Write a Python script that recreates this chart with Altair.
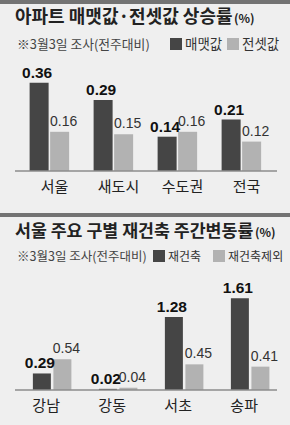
import altair as alt
import pandas as pd

# ---- data ----
regions = ["서울", "새도시", "수도권", "전국"]
sale_rise = [0.36, 0.29, 0.14, 0.21]
jeonse_rise = [0.16, 0.15, 0.16, 0.12]
series1 = ["매맷값", "전셋값"]
grid1 = [0, 0.1, 0.2, 0.3, 0.4]

districts = ["강남", "강동", "서초", "송파"]
rebuild_rate = [0.29, 0.02, 1.28, 1.61]
other_rate = [0.54, 0.04, 0.45, 0.41]
series2 = ["재건축", "재건축제외"]
grid2 = [0, 0.5, 1.0, 1.5, 2.0]

title1 = "아파트 매맷값·전셋값 상승률"
title2 = "서울 주요 구별 재건축 주간변동률"
unit = "(%)"
note = "※3월3일 조사(전주대비)"

DARK = "#454545"
LIGHT = "#b2b2b2"
BG = "#efefef"
BAND = "#737373"
KR = "Noto Sans CJK KR"
NUM = "Liberation Sans, Arial, sans-serif"

W = 263


def one(t):
    return alt.Chart(pd.DataFrame({"t": [t]}))


def panel(cats, ser, a, b, grid, height, pin, xrange, barw,
          band_y, title_y, title_fs, unit_x, note_y, note_fs, leg):
    n = len(cats)
    df = pd.DataFrame({
        "cat": cats * 2,
        "series": [ser[0]] * n + [ser[1]] * n,
        "value": a + b,
    })
    x = alt.X("cat:N", sort=cats,
              scale=alt.Scale(paddingInner=pin, paddingOuter=0, range=xrange),
              axis=alt.Axis(title=None, domain=False, ticks=False, labelAngle=0,
                            labelFont=KR, labelFontSize=15, labelColor="#222",
                            labelPadding=8))
    xo = alt.XOffset("series:N", sort=ser,
                     scale=alt.Scale(paddingInner=0.1, paddingOuter=0))
    y = alt.Y("value:Q", scale=alt.Scale(domain=[grid[0], grid[-1]], nice=False),
              axis=alt.Axis(title=None, values=grid, domain=False, ticks=False,
                            labelExpr="datum.value === 0 ? '0' : ''",
                            labelFont=NUM, labelFontSize=13, labelColor="#555",
                            labelPadding=3, gridColor="#ffffff", gridWidth=1))
    color = alt.Color("series:N", sort=ser,
                      scale=alt.Scale(domain=ser, range=[DARK, LIGHT]), legend=None)

    base = alt.Chart(df)
    bars = base.mark_bar(size=barw).encode(x=x, xOffset=xo, y=y, color=color)
    lab_dark = base.transform_filter(alt.datum.series == ser[0]).mark_text(
        font=NUM, fontWeight="bold", fontSize=15.5, baseline="alphabetic",
        dy=-5, dx=-2, color="#111").encode(
        x=x, xOffset=xo, y=y, text=alt.Text("value:Q", format=".2f"))
    lab_light = base.transform_filter(alt.datum.series == ser[1]).mark_text(
        font=NUM, fontSize=14, baseline="alphabetic",
        dy=-6, dx=4, color="#333").encode(
        x=x, xOffset=xo, y=y, text=alt.Text("value:Q", format=".2f"))

    zero = alt.Chart(pd.DataFrame({"v": [0]})).mark_rule(
        color="#8c8c8c", strokeWidth=1.5).encode(
        y=alt.Y("v:Q", axis=None), x=alt.value(0), x2=alt.value(262))

    band = one("").mark_rect(color=BAND).encode(
        x=alt.value(-15), x2=alt.value(275),
        y=alt.value(band_y), y2=alt.value(band_y + 4))
    t_main = one(leg["title"]).mark_text(
        font=KR, fontSize=title_fs, fontWeight="bold", color="#222",
        align="left", baseline="alphabetic").encode(
        x=alt.value(0), y=alt.value(title_y), text="t:N")
    t_unit = one(unit).mark_text(
        font=KR, fontSize=12, fontWeight="bold", color="#222",
        align="left", baseline="alphabetic").encode(
        x=alt.value(unit_x), y=alt.value(title_y), text="t:N")
    t_note = one(note).mark_text(
        font=KR, fontSize=note_fs, color="#444",
        align="left", baseline="alphabetic").encode(
        x=alt.value(2), y=alt.value(note_y), text="t:N")

    sq = 12
    layers = [band, t_main, t_unit, t_note]
    for name, col, xs in [(ser[0], DARK, leg["x1"]), (ser[1], LIGHT, leg["x2"])]:
        layers.append(one(name).mark_rect(color=col).encode(
            x=alt.value(xs), x2=alt.value(xs + sq),
            y=alt.value(note_y - 11), y2=alt.value(note_y + 1)))
        layers.append(one(name).mark_text(
            font=KR, fontSize=leg["fs"], color="#333", align="left",
            baseline="alphabetic").encode(
            x=alt.value(xs + sq + 3), y=alt.value(note_y), text="t:N"))

    return alt.layer(bars, zero, lab_dark, lab_light, *layers).properties(
        width=W, height=height)


p1 = panel(regions, series1, sale_rise, jeonse_rise, grid1, 98,
           0.375, [19.5, 251.5], 19,
           band_y=-73, title_y=-50, title_fs=18, unit_x=219,
           note_y=-24, note_fs=12.8,
           leg={"title": title1, "x1": 155, "x2": 212, "fs": 13.5})

corner = one("").mark_rect(color=BG).encode(
    x=alt.value(-15), x2=alt.value(-14), y=alt.value(148), y2=alt.value(149))

p2 = panel(districts, series2, rebuild_rate, other_rate, grid2, 114,
           0.42, [12, 248.3], 18,
           band_y=-63, title_y=-39, title_fs=17.3, unit_x=240,
           note_y=-15, note_fs=12.5,
           leg={"title": title2, "x1": 138, "x2": 198, "fs": 12})
p2 = alt.layer(p2, corner).properties(width=W, height=114)

chart = alt.vconcat(p1, p2, spacing=105, bounds="flush", padding=0).configure(
    background=BG).configure_view(stroke=None)

chart.save("out.html", embed_options={"renderer": "svg", "actions": False})
